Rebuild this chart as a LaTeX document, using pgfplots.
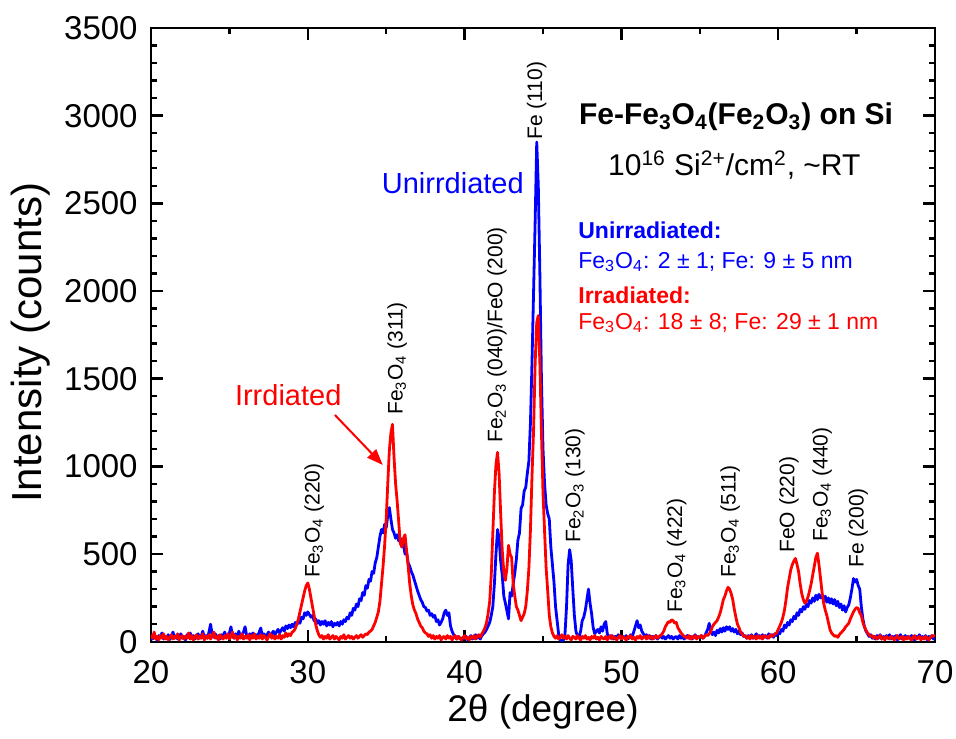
\documentclass[border=0pt]{standalone}
\usepackage{fontspec}
\setmainfont{Liberation Sans}
\usepackage{pgfplots}
\pgfplotsset{compat=1.18}
\usetikzlibrary{arrows.meta}
\definecolor{myblue}{RGB}{0,0,255}
\definecolor{myred}{RGB}{255,0,0}
\newcommand{\sub}[1]{\textsubscript{#1}}
\begin{document}
\begin{tikzpicture}
\begin{axis}[name=ax,
  scale only axis, width=392pt, height=306.85pt,
  xmin=20, xmax=70, ymin=0, ymax=3500,
  xtick={20,30,...,70}, ytick={0,500,...,3500},
  minor x tick num=1, minor y tick num=4,
  tick align=inside, major tick length=6pt, minor tick length=3pt,
  axis line style={line width=1.2pt},
  every tick/.style={black, line width=1.2pt},
  tick label style={font=\fontsize{16.5}{19}\selectfont, inner sep=1pt},
  xticklabel style={yshift=-8pt},
  yticklabel style={xshift=-5.5pt},
  /pgf/number format/assume math mode=true,
  /pgf/number format/1000 sep={},
  xlabel={2θ (degree)}, ylabel={Intensity (counts)},
  xlabel style={font=\fontsize{18.5}{21}\selectfont, at={(axis description cs:0.5,-0.115)}, anchor=center},
  ylabel style={font=\fontsize{21}{25}\selectfont, at={(axis description cs:-0.154,0.487)}, anchor=center},
  clip=true,
]
\addplot[myblue, line width=1.4pt, line join=round] coordinates {
(20.0,30)(20.1,15)(20.2,45)(20.3,20)(20.4,10)(20.5,35)(20.6,25)(20.7,50)(20.8,15)(20.9,30)
(21.0,20)(21.1,40)(21.2,12)(21.3,30)(21.4,55)(21.5,20)(21.6,35)(21.7,15)(21.8,25)(21.9,45)
(22.0,20)(22.1,30)(22.2,10)(22.3,40)(22.4,25)(22.5,50)(22.6,20)(22.7,35)(22.8,15)(22.9,30)
(23.0,45)(23.1,20)(23.2,30)(23.3,60)(23.4,25)(23.5,35)(23.6,20)(23.7,55)(23.8,100)(23.9,40)
(24.0,25)(24.1,45)(24.2,20)(24.3,35)(24.4,15)(24.5,40)(24.6,30)(24.7,55)(24.8,25)(24.9,35)
(25.0,50)(25.1,85)(25.2,30)(25.3,20)(25.4,45)(25.5,25)(25.6,60)(25.7,30)(25.8,40)(25.9,55)
(26.0,85)(26.1,35)(26.2,20)(26.3,45)(26.4,30)(26.5,50)(26.6,25)(26.7,40)(26.8,30)(26.9,55)
(27.0,78)(27.1,30)(27.2,45)(27.3,25)(27.4,40)(27.5,55)(27.6,30)(27.7,45)(27.8,60)(27.9,40)
(28.0,55)(28.1,70)(28.2,50)(28.3,65)(28.4,80)(28.5,60)(28.6,90)(28.7,75)(28.8,95)(28.9,80)
(29.0,100)(29.1,85)(29.2,110)(29.3,95)(29.4,120)(29.5,105)(29.6,140)(29.7,130)(29.8,165)(29.9,150)
(30.0,170)(30.1,155)(30.2,140)(30.3,150)(30.4,120)(30.5,130)(30.6,105)(30.7,120)(30.8,95)(30.9,115)
(31.0,100)(31.1,120)(31.2,90)(31.3,110)(31.4,95)(31.5,115)(31.6,85)(31.7,105)(31.8,95)(31.9,110)
(32.0,90)(32.1,115)(32.2,100)(32.3,125)(32.4,115)(32.5,140)(32.6,130)(32.7,165)(32.8,150)(32.9,190)
(33.0,180)(33.1,215)(33.2,200)(33.3,245)(33.4,235)(33.5,280)(33.6,265)(33.7,320)(33.8,305)(33.9,355)
(34.0,345)(34.1,400)(34.2,390)(34.3,450)(34.4,480)(34.5,540)(34.6,600)(34.7,640)(34.8,620)(34.9,670)
(35.0,650)(35.1,720)(35.2,765)(35.3,700)(35.4,640)(35.5,620)(35.6,590)(35.7,610)(35.8,575)(35.9,590)
(36.0,540)(36.1,560)(36.2,500)(36.3,510)(36.4,450)(36.5,430)(36.6,400)(36.7,380)(36.8,350)(36.9,320)
(37.0,290)(37.1,265)(37.2,240)(37.3,225)(37.4,200)(37.5,195)(37.6,175)(37.7,180)(37.8,150)(37.9,160)
(38.0,140)(38.1,150)(38.2,115)(38.3,125)(38.4,95)(38.5,110)(38.6,130)(38.7,165)(38.8,180)(38.9,150)
(39.0,165)(39.1,90)(39.2,60)(39.3,40)(39.4,25)(39.5,15)(39.6,30)(39.7,20)(39.8,10)(39.9,25)
(40.0,15)(40.1,30)(40.2,10)(40.3,20)(40.4,35)(40.5,15)(40.6,25)(40.7,40)(40.8,20)(40.9,30)
(41.0,15)(41.1,35)(41.2,45)(41.3,55)(41.4,70)(41.5,90)(41.6,110)(41.7,150)(41.8,200)(41.9,330)
(42.0,500)(42.1,640)(42.2,590)(42.3,460)(42.4,380)(42.5,260)(42.6,220)(42.7,175)(42.8,130)(42.9,280)
(43.0,260)(43.1,330)(43.2,390)(43.3,470)(43.4,580)(43.5,620)(43.6,760)(43.7,780)(43.8,860)(43.9,880)
(44.0,960)(44.1,1030)(44.2,1250)(44.3,1600)(44.4,2000)(44.5,2400)(44.6,2850)(44.7,2600)(44.8,2100)(44.9,1500)
(45.0,1100)(45.1,900)(45.2,780)(45.3,730)(45.4,700)(45.5,540)(45.6,440)(45.7,340)(45.8,200)(45.9,120)
(46.0,40)(46.1,10)(46.2,5)(46.3,10)(46.4,40)(46.5,200)(46.6,440)(46.7,525)(46.8,460)(46.9,300)
(47.0,150)(47.1,60)(47.2,30)(47.3,25)(47.4,60)(47.5,120)(47.6,140)(47.7,180)(47.8,240)(47.9,300)
(48.0,220)(48.1,160)(48.2,80)(48.3,45)(48.4,60)(48.5,70)(48.6,50)(48.7,85)(48.8,60)(48.9,100)
(49.0,115)(49.1,45)(49.2,30)(49.3,20)(49.4,35)(49.5,15)(49.6,30)(49.7,20)(49.8,40)(49.9,25)
(50.0,15)(50.1,30)(50.2,20)(50.3,35)(50.4,15)(50.5,25)(50.6,40)(50.7,30)(50.8,60)(50.9,90)
(51.0,120)(51.1,80)(51.2,95)(51.3,60)(51.4,45)(51.5,30)(51.6,40)(51.7,20)(51.8,35)(51.9,15)
(52.0,30)(52.1,20)(52.2,35)(52.3,15)(52.4,25)(52.5,35)(52.6,20)(52.7,30)(52.8,15)(52.9,25)
(53.0,35)(53.1,20)(53.2,30)(53.3,15)(53.4,25)(53.5,30)(53.6,15)(53.7,35)(53.8,20)(53.9,30)
(54.0,15)(54.1,25)(54.2,35)(54.3,20)(54.4,30)(54.5,15)(54.6,25)(54.7,40)(54.8,20)(54.9,30)
(55.0,25)(55.1,35)(55.2,20)(55.3,30)(55.4,50)(55.5,70)(55.6,105)(55.7,60)(55.8,40)(55.9,55)
(56.0,35)(56.1,65)(56.2,50)(56.3,75)(56.4,55)(56.5,80)(56.6,60)(56.7,85)(56.8,70)(56.9,85)
(57.0,60)(57.1,75)(57.2,55)(57.3,70)(57.4,45)(57.5,60)(57.6,40)(57.7,50)(57.8,30)(57.9,35)
(58.0,20)(58.1,35)(58.2,25)(58.3,40)(58.4,20)(58.5,30)(58.6,45)(58.7,25)(58.8,35)(58.9,20)
(59.0,40)(59.1,25)(59.2,35)(59.3,20)(59.4,45)(59.5,30)(59.6,40)(59.7,25)(59.8,45)(59.9,35)
(60.0,55)(60.1,45)(60.2,70)(60.3,60)(60.4,95)(60.5,80)(60.6,110)(60.7,95)(60.8,125)(60.9,115)
(61.0,145)(61.1,130)(61.2,165)(61.3,150)(61.4,185)(61.5,170)(61.6,200)(61.7,185)(61.8,215)(61.9,200)
(62.0,235)(62.1,220)(62.2,250)(62.3,230)(62.4,265)(62.5,240)(62.6,270)(62.7,250)(62.8,265)(62.9,235)
(63.0,260)(63.1,225)(63.2,250)(63.3,220)(63.4,245)(63.5,215)(63.6,240)(63.7,205)(63.8,230)(63.9,195)
(64.0,215)(64.1,180)(64.2,205)(64.3,170)(64.4,195)(64.5,210)(64.6,250)(64.7,300)(64.8,360)(64.9,340)
(65.0,355)(65.1,320)(65.2,300)(65.3,200)(65.4,130)(65.5,85)(65.6,60)(65.7,45)(65.8,30)(65.9,40)
(66.0,20)(66.1,30)(66.2,15)(66.3,35)(66.4,20)(66.5,40)(66.6,15)(66.7,30)(66.8,20)(66.9,35)
(67.0,25)(67.1,40)(67.2,15)(67.3,30)(67.4,20)(67.5,35)(67.6,10)(67.7,30)(67.8,40)(67.9,15)
(68.0,25)(68.1,35)(68.2,20)(68.3,30)(68.4,15)(68.5,35)(68.6,25)(68.7,10)(68.8,30)(68.9,20)
(69.0,40)(69.1,15)(69.2,30)(69.3,20)(69.4,35)(69.5,10)(69.6,30)(69.7,20)(69.8,35)(69.9,15)
(70.0,25)
};
\addplot[myred, line width=1.4pt, line join=round] coordinates {
(20.0,40)(20.1,20)(20.2,55)(20.3,15)(20.4,30)(20.5,10)(20.6,35)(20.7,20)(20.8,45)(20.9,15)
(21.0,30)(21.1,10)(21.2,25)(21.3,40)(21.4,15)(21.5,30)(21.6,20)(21.7,45)(21.8,10)(21.9,25)
(22.0,35)(22.1,15)(22.2,30)(22.3,20)(22.4,50)(22.5,15)(22.6,35)(22.7,10)(22.8,25)(22.9,40)
(23.0,15)(23.1,30)(23.2,20)(23.3,45)(23.4,10)(23.5,30)(23.6,20)(23.7,40)(23.8,15)(23.9,35)
(24.0,55)(24.1,20)(24.2,30)(24.3,10)(24.4,40)(24.5,25)(24.6,15)(24.7,35)(24.8,20)(24.9,45)
(25.0,15)(25.1,30)(25.2,55)(25.3,20)(25.4,35)(25.5,10)(25.6,30)(25.7,20)(25.8,45)(25.9,15)
(26.0,30)(26.1,20)(26.2,40)(26.3,10)(26.4,35)(26.5,20)(26.6,45)(26.7,15)(26.8,30)(26.9,20)
(27.0,40)(27.1,15)(27.2,35)(27.3,25)(27.4,10)(27.5,30)(27.6,45)(27.7,20)(27.8,35)(27.9,15)
(28.0,30)(28.1,20)(28.2,40)(28.3,15)(28.4,35)(28.5,25)(28.6,50)(28.7,30)(28.8,45)(28.9,35)
(29.0,55)(29.1,60)(29.2,75)(29.3,100)(29.4,130)(29.5,170)(29.6,210)(29.7,250)(29.8,290)(29.9,320)
(30.0,335)(30.1,300)(30.2,250)(30.3,200)(30.4,150)(30.5,100)(30.6,65)(30.7,40)(30.8,25)(30.9,35)
(31.0,15)(31.1,30)(31.2,20)(31.3,40)(31.4,15)(31.5,25)(31.6,35)(31.7,15)(31.8,30)(31.9,20)
(32.0,10)(32.1,30)(32.2,20)(32.3,40)(32.4,15)(32.5,25)(32.6,35)(32.7,20)(32.8,30)(32.9,15)
(33.0,25)(33.1,35)(33.2,20)(33.3,30)(33.4,40)(33.5,25)(33.6,35)(33.7,45)(33.8,40)(33.9,55)
(34.0,60)(34.1,70)(34.2,90)(34.3,110)(34.4,140)(34.5,170)(34.6,230)(34.7,330)(34.8,430)(34.9,550)
(35.0,700)(35.1,900)(35.2,1090)(35.3,1190)(35.4,1240)(35.5,1050)(35.6,900)(35.7,800)(35.8,680)(35.9,560)
(36.0,540)(36.1,590)(36.2,610)(36.3,520)(36.4,430)(36.5,330)(36.6,260)(36.7,210)(36.8,180)(36.9,160)
(37.0,130)(37.1,110)(37.2,90)(37.3,80)(37.4,60)(37.5,50)(37.6,45)(37.7,30)(37.8,40)(37.9,20)
(38.0,35)(38.1,15)(38.2,30)(38.3,20)(38.4,35)(38.5,10)(38.6,25)(38.7,30)(38.8,15)(38.9,35)
(39.0,20)(39.1,30)(39.2,10)(39.3,25)(39.4,35)(39.5,15)(39.6,30)(39.7,20)(39.8,10)(39.9,25)
(40.0,35)(40.1,15)(40.2,25)(40.3,10)(40.4,30)(40.5,20)(40.6,35)(40.7,15)(40.8,30)(40.9,40)
(41.0,25)(41.1,45)(41.2,60)(41.3,80)(41.4,110)(41.5,160)(41.6,230)(41.7,380)(41.8,620)(41.9,850)
(42.0,1010)(42.1,1080)(42.2,960)(42.3,730)(42.4,520)(42.5,400)(42.6,350)(42.7,420)(42.8,550)(42.9,500)
(43.0,480)(43.1,330)(43.2,260)(43.3,200)(43.4,180)(43.5,150)(43.6,120)(43.7,140)(43.8,160)(43.9,200)
(44.0,290)(44.1,420)(44.2,640)(44.3,950)(44.4,1210)(44.5,1590)(44.6,1820)(44.7,1860)(44.8,1590)(44.9,1200)
(45.0,850)(45.1,630)(45.2,420)(45.3,290)(45.4,150)(45.5,85)(45.6,50)(45.7,30)(45.8,20)(45.9,35)
(46.0,15)(46.1,25)(46.2,40)(46.3,20)(46.4,30)(46.5,15)(46.6,35)(46.7,20)(46.8,10)(46.9,30)
(47.0,25)(47.1,15)(47.2,35)(47.3,20)(47.4,10)(47.5,30)(47.6,20)(47.7,35)(47.8,15)(47.9,25)
(48.0,10)(48.1,30)(48.2,20)(48.3,35)(48.4,15)(48.5,25)(48.6,10)(48.7,30)(48.8,20)(48.9,15)
(49.0,30)(49.1,10)(49.2,25)(49.3,35)(49.4,15)(49.5,30)(49.6,20)(49.7,10)(49.8,25)(49.9,35)
(50.0,15)(50.1,30)(50.2,20)(50.3,10)(50.4,30)(50.5,20)(50.6,35)(50.7,15)(50.8,25)(50.9,10)
(51.0,30)(51.1,20)(51.2,35)(51.3,15)(51.4,25)(51.5,30)(51.6,15)(51.7,35)(51.8,20)(51.9,30)
(52.0,15)(52.1,25)(52.2,35)(52.3,20)(52.4,30)(52.5,35)(52.6,45)(52.7,60)(52.8,85)(52.9,100)
(53.0,115)(53.1,110)(53.2,125)(53.3,120)(53.4,105)(53.5,110)(53.6,80)(53.7,65)(53.8,50)(53.9,40)
(54.0,30)(54.1,25)(54.2,20)(54.3,35)(54.4,15)(54.5,30)(54.6,20)(54.7,35)(54.8,15)(54.9,30)
(55.0,25)(55.1,35)(55.2,20)(55.3,30)(55.4,40)(55.5,35)(55.6,45)(55.7,60)(55.8,85)(55.9,100)
(56.0,110)(56.1,120)(56.2,140)(56.3,165)(56.4,200)(56.5,240)(56.6,260)(56.7,290)(56.8,310)(56.9,300)
(57.0,275)(57.1,240)(57.2,185)(57.3,140)(57.4,100)(57.5,80)(57.6,55)(57.7,45)(57.8,30)(57.9,35)
(58.0,20)(58.1,30)(58.2,15)(58.3,35)(58.4,20)(58.5,30)(58.6,15)(58.7,35)(58.8,20)(58.9,30)
(59.0,15)(59.1,35)(59.2,25)(59.3,30)(59.4,20)(59.5,40)(59.6,30)(59.7,35)(59.8,45)(59.9,50)
(60.0,70)(60.1,90)(60.2,110)(60.3,140)(60.4,180)(60.5,240)(60.6,310)(60.7,360)(60.8,410)(60.9,440)
(61.0,460)(61.1,475)(61.2,440)(61.3,400)(61.4,330)(61.5,275)(61.6,240)(61.7,220)(61.8,230)(61.9,255)
(62.0,290)(62.1,330)(62.2,380)(62.3,430)(62.4,480)(62.5,505)(62.6,440)(62.7,360)(62.8,280)(62.9,220)
(63.0,180)(63.1,150)(63.2,110)(63.3,70)(63.4,50)(63.5,40)(63.6,30)(63.7,35)(63.8,25)(63.9,40)
(64.0,50)(64.1,60)(64.2,70)(64.3,85)(64.4,95)(64.5,105)(64.6,130)(64.7,150)(64.8,170)(64.9,185)
(65.0,195)(65.1,190)(65.2,165)(65.3,150)(65.4,110)(65.5,85)(65.6,65)(65.7,50)(65.8,40)(65.9,30)
(66.0,35)(66.1,20)(66.2,30)(66.3,15)(66.4,25)(66.5,35)(66.6,15)(66.7,25)(66.8,10)(66.9,30)
(67.0,20)(67.1,15)(67.2,30)(67.3,20)(67.4,10)(67.5,25)(67.6,35)(67.7,15)(67.8,20)(67.9,30)
(68.0,10)(68.1,25)(68.2,15)(68.3,30)(68.4,20)(68.5,10)(68.6,25)(68.7,35)(68.8,15)(68.9,20)
(69.0,30)(69.1,10)(69.2,25)(69.3,15)(69.4,30)(69.5,20)(69.6,10)(69.7,25)(69.8,35)(69.9,30)
(70.0,40)
};
% curve annotations
\node[myblue, font=\fontsize{14.5}{17}\selectfont] at (axis cs:39.25,2617) {Unirrdiated};
\node[myred, font=\fontsize{14.5}{17}\selectfont] at (axis cs:28.75,1407) {Irrdiated};
\draw[myred, line width=1pt, -{Triangle[length=8pt,width=6pt]}] (axis cs:31.73,1293) -- (axis cs:34.78,1008);
% peak labels
\tikzset{pk/.style={rotate=90, anchor=west, inner sep=0pt, font=\fontsize{10.5}{12}\selectfont}}
\node[pk] at (axis cs:30.4,363) {Fe\sub{3}O\sub{4} (220)};
\node[pk] at (axis cs:35.7,1293) {Fe\sub{3}O\sub{4} (311)};
\node[pk] at (axis cs:42.07,1133) {Fe\sub{2}O\sub{3} (040)/FeO (200)};
\node[pk] at (axis cs:44.6,2861) {Fe (110)};
\node[pk] at (axis cs:47.04,563) {Fe\sub{2}O\sub{3} (130)};
\node[pk] at (axis cs:53.53,164) {Fe\sub{3}O\sub{4} (422)};
\node[pk] at (axis cs:56.93,363) {Fe\sub{3}O\sub{4} (511)};
\node[pk] at (axis cs:60.69,506) {FeO (220)};
\node[pk] at (axis cs:62.8,569) {Fe\sub{3}O\sub{4} (440)};
\node[pk] at (axis cs:65.1,420) {Fe (200)};
% title block
\node[font=\fontsize{15}{18}\selectfont\bfseries] at (axis cs:57.31,2993) {Fe-Fe\sub{3}O\sub{4}(Fe\sub{2}O\sub{3}) on Si};
\node[font=\fontsize{15}{18}\selectfont] at (axis cs:57.2,2719) {10\textsuperscript{16} Si\textsuperscript{2+}/cm\textsuperscript{2}, \textasciitilde RT};
\node[anchor=west, inner sep=0pt, myblue, font=\fontsize{11.5}{14}\selectfont\bfseries] at (axis cs:47.23,2349) {Unirradiated:};
\node[anchor=west, inner sep=0pt, myblue, font=\fontsize{11.5}{14}\selectfont] at (axis cs:47.23,2166) {Fe\sub{3}O\sub{4}: 2 ± 1; Fe: 9 ± 5 nm};
\node[anchor=west, inner sep=0pt, myred, font=\fontsize{11.5}{14}\selectfont\bfseries] at (axis cs:47.23,1978) {Irradiated:};
\node[anchor=west, inner sep=0pt, myred, font=\fontsize{11.5}{14}\selectfont] at (axis cs:47.23,1818) {Fe\sub{3}O\sub{4}: 18 ± 8; Fe: 29 ± 1 nm};
\end{axis}
\path (ax.south west) ++(-75.5pt,-48.15pt);
\path (ax.north east) ++(10.5pt,14pt);
\end{tikzpicture}
\end{document}
